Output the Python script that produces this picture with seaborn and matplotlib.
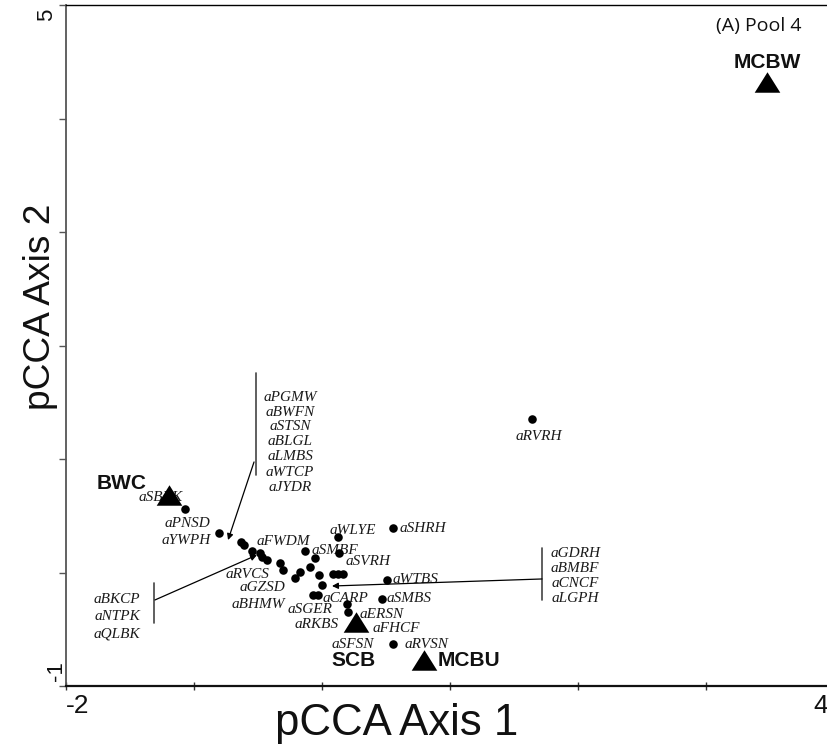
import matplotlib
matplotlib.use("Agg")
import matplotlib.pyplot as plt
import matplotlib.transforms as mtransforms
import seaborn as sns
import pandas as pd

# ---------------- data ----------------
site_names = ["BWC", "SCB", "MCBU", "MCBW"]
site_x = [-1.195, 0.262, 0.793, 3.480]
site_y = [0.683, -0.436, -0.771, 4.322]

species_x = [1.641, -1.070, -0.805, -0.633, -0.609, -0.547, -0.484, -0.469, -0.430,
             -0.328, -0.305, -0.172, -0.211, -0.133, -0.094, -0.055, -0.023, 0.086,
             0.125, 0.164, 0.000, -0.070, -0.031, 0.125, 0.133, 0.555, 0.508, 0.469,
             0.195, 0.203, 0.555]
species_y = [1.352, 0.559, 0.348, 0.269, 0.242, 0.189, 0.172, 0.137, 0.110,
             0.084, 0.022, 0.004, -0.048, 0.189, 0.048, 0.128, -0.022, -0.013,
             -0.013, -0.013, -0.110, -0.198, -0.198, 0.313, 0.172, 0.392, -0.066, -0.233,
             -0.278, -0.348, -0.630]

# species labels and where they sit
label_text = ["aRVRH", "aSBRK", "aPNSD", "aYWPH", "aFWDM", "aWLYE", "aSHRH", "aSMBF",
              "aSVRH", "aRVCS", "aGZSD", "aBHMW", "aCARP", "aSMBS", "aWTBS", "aSGER",
              "aERSN", "aRKBS", "aFHCF", "aSFSN", "aRVSN"]
label_x = [1.695, -1.258, -1.055, -1.0625, -0.305, 0.242, 0.789, 0.102,
           0.359, -0.586, -0.469, -0.500, 0.180, 0.680, 0.727, -0.094,
           0.469, -0.039, 0.578, 0.242, 0.820]
label_y = [1.194, 0.665, 0.436, 0.278, 0.269, 0.374, 0.392, 0.198,
           0.101, -0.022, -0.128, -0.278, -0.233, -0.233, -0.066, -0.330,
           -0.366, -0.454, -0.489, -0.630, -0.630]

# grouped labels (stacked lists with bracket + arrow)
group_top = ["aPGMW", "aBWFN", "aSTSN", "aBLGL", "aLMBS", "aWTCP", "aJYDR"]
group_top_y = [1.546, 1.414, 1.282, 1.150, 1.018, 0.885, 0.753]
group_left = ["aBKCP", "aNTPK", "aQLBK"]
group_left_y = [-0.242, -0.392, -0.542]
group_right = ["aGDRH", "aBMBF", "aCNCF", "aLGPH"]
group_right_y = [0.163, 0.031, -0.101, -0.233]

x_ticks = [-2, -1, 0, 1, 2, 3, 4]
x_ticklabels = ["-2", "", "", "", "", "", "4"]
y_ticks = [-1, 0, 1, 2, 3, 4, 5]
y_ticklabels = ["-1", "", "", "", "", "", "5"]

# ---------------- plot ----------------
sns.set_theme(style="white")
plt.rcParams["font.family"] = ["Liberation Sans", "DejaVu Sans"]

fig = plt.figure(figsize=(8.28, 7.44), dpi=100)
ax = fig.add_axes([66 / 828, 58 / 744, 768 / 828, 681 / 744])

species_df = pd.DataFrame({"x": species_x, "y": species_y})
sns.scatterplot(data=species_df, x="x", y="y", ax=ax, color="black", s=38,
                linewidth=0, zorder=3, legend=False)

tri = [(0, 0.8), (-1, -0.8), (1, -0.8), (0, 0.8)]
site_df = pd.DataFrame({"x": site_x, "y": site_y, "site": site_names})
sns.scatterplot(data=site_df, x="x", y="y", ax=ax, color="black", marker=tri, s=340,
                linewidth=0, zorder=5, legend=False)

ax.set_xlim(-2, 4)
ax.set_ylim(-1, 5)
ax.set_xlabel("")
ax.set_ylabel("")

lab_kw = dict(fontsize=11, fontstyle="italic", family="Liberation Serif",
              color="#1a1a1a", ha="center", va="center", zorder=2)
for t, x, y in zip(label_text, label_x, label_y):
    ax.text(x, y, t, **lab_kw)
for t, y in zip(group_top, group_top_y):
    ax.text(-0.25, y, t, **lab_kw)
for t, y in zip(group_left, group_left_y):
    ax.text(-1.602, y, t, **lab_kw)
for t, y in zip(group_right, group_right_y):
    ax.text(1.977, y, t, **lab_kw)

# brackets
br_kw = dict(color="#444444", lw=1.2, zorder=2)
ax.plot([-0.516, -0.516], [1.758, 0.859], **br_kw)
ax.plot([-1.3125, -1.3125], [-0.093, -0.445], **br_kw)
ax.plot([1.719, 1.719], [0.216, -0.242], **br_kw)

arr = dict(arrowstyle="-|>", color="black", lw=0.9, mutation_scale=9,
           shrinkA=0, shrinkB=0)
ax.annotate("", xy=(-0.734, 0.286), xytext=(-0.531, 0.974), arrowprops=arr, zorder=2)
ax.annotate("", xy=(-0.508, 0.154), xytext=(-1.305, -0.242), arrowprops=arr, zorder=2)
ax.annotate("", xy=(0.078, -0.119), xytext=(1.719, -0.057), arrowprops=arr, zorder=2)

# site labels
site_lab_pos = {"BWC": (-1.5625, 0.780), "SCB": (0.25, -0.771),
                "MCBU": (1.148, -0.771), "MCBW": (3.480, 4.489)}
for n in site_names:
    x, y = site_lab_pos[n]
    ax.text(x, y, n, fontsize=15, fontweight="bold", family="Liberation Sans",
            color="#111111", ha="center", va="center", zorder=6)

# panel title
fig.text(759 / 828, 1 - 26 / 744, "(A) Pool 4", fontsize=14, family="Open Sans",
         color="#111111", ha="center", va="center")

# axes labels
fig.text(397 / 828, 1 - 735 / 744, "pCCA Axis 1", fontsize=31.5, family="Liberation Sans",
         color="#111111", ha="center", va="baseline")
fig.text(50 / 828, 1 - 307 / 744, "pCCA Axis 2", fontsize=26.7, family="Liberation Sans",
         color="#111111", rotation=90, rotation_mode="anchor", ha="center", va="baseline")

# spines and ticks
ax.spines["right"].set_visible(False)
ax.spines["top"].set_color("black")
ax.spines["top"].set_linewidth(1.0)
ax.spines["left"].set_color("#555555")
ax.spines["left"].set_linewidth(1.3)
ax.spines["bottom"].set_color("#111111")
ax.spines["bottom"].set_linewidth(1.6)

ax.set_xticks(x_ticks)
ax.set_xticklabels(x_ticklabels, fontsize=19)
ax.set_yticks(y_ticks)
ax.set_yticklabels(y_ticklabels, fontsize=16)
ax.tick_params(axis="x", bottom=True, direction="inout", length=6, width=1,
               color="#333333", pad=3, labelcolor="#111111")
ax.tick_params(axis="y", left=True, direction="out", length=5, width=1,
               color="#555555", pad=0, labelcolor="#111111")

xl = ax.get_xticklabels()
xl[0].set_ha("left")
xl[-1].set_ha("right")
xl[-1].set_transform(xl[-1].get_transform() +
                     mtransforms.ScaledTranslation(-6 / 100, 0, fig.dpi_scale_trans))

yl = ax.get_yticklabels()
for lab in yl:
    lab.set_rotation(90)
    lab.set_rotation_mode("anchor")
    lab.set_va("baseline")
yl[0].set_ha("left")
yl[0].set_transform(yl[0].get_transform() +
                    mtransforms.ScaledTranslation(3 / 100, 5 / 100, fig.dpi_scale_trans))
yl[-1].set_ha("right")
yl[-1].set_transform(yl[-1].get_transform() +
                     mtransforms.ScaledTranslation(-7 / 100, -4 / 100, fig.dpi_scale_trans))

fig.savefig("out.png", dpi=100, facecolor="white")
